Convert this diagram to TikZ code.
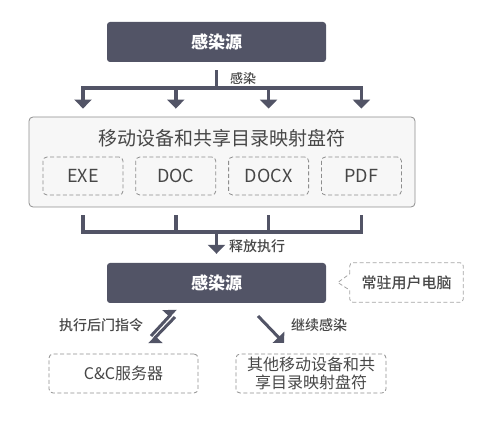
\documentclass[tikz,border=0pt]{standalone}
\usepackage{fontspec}
\setmainfont{Noto Sans CJK SC}
\newfontfamily\medfont{Noto Sans CJK SC Medium}
\usepackage{xcolor}
\usetikzlibrary{arrows.meta, positioning, calc}
\definecolor{slate}{HTML}{525466}
\definecolor{frame}{HTML}{8E8E8E}
\definecolor{ink}{HTML}{474747}

\begin{document}
\begin{tikzpicture}[x=1pt, y=-1pt,
   darkbox/.style={fill=slate, rounded corners=3pt, minimum width=219pt, minimum height=40pt,
     inner sep=0pt, text=white, font=\fontsize{17}{20}\selectfont\bfseries},
   filebox/.style={draw=frame, dash pattern=on 4pt off 2.5pt, rounded corners=4pt, line width=0.8pt,
     minimum width=80pt, minimum height=38pt, inner sep=0pt, text=ink, font=\fontsize{18}{21}\selectfont},
   flow/.style={draw=slate, line width=3.5pt},
   tip/.style={-{Triangle[width=17pt, length=9pt]}},
   lbl/.style={text=ink, inner sep=0pt, font=\fontsize{14}{16}\selectfont\medfont}]
  \useasboundingbox (0,0) rectangle (490,430);

  % source box and its spread to the shares
  \node[darkbox] (src) at (216.5,42) {感染源};
  \node[draw=frame, fill=black!3, rounded corners=4pt, line width=0.8pt,
        minimum width=386pt, minimum height=90pt, inner sep=0pt] (grp) at (222,162) {};
  \node[text=ink, inner sep=0pt, font=\fontsize{19}{22}\selectfont] (title) at (222,138) {移动设备和共享目录映射盘符};
  \node[filebox] (exe) at (83,176) {EXE};
  \node[filebox, right=12pt of exe] (doc) {DOC};
  \node[filebox, right=12pt of doc] (docx) {DOCX};
  \node[filebox, right=12pt of docx] (pdf) {PDF};

  \coordinate (split) at (216.5,88);
  \draw[flow] ([yshift=-8pt]src.south) -- (split);
  \node[lbl, font=\fontsize{13}{15}\selectfont\medfont] (infect) at (243,79) {感染};
  \draw[flow, line cap=rect] (exe |- split) -- (pdf |- split);
  \foreach \f in {exe,doc,docx,pdf}
    \draw[flow, tip] (\f |- split) -- ([yshift=8pt]\f |- grp.north);

  % files join back and run on the host
  \coordinate (merge) at (216.5,232);
  \foreach \f in {exe,doc,docx,pdf}
    \draw[flow] ([yshift=-8pt]\f |- grp.south) -- (\f |- merge);
  \draw[flow, line cap=rect] (exe |- merge) -- (pdf |- merge);
  \node[darkbox] (host) at (216.5,283) {感染源};
  \draw[flow, tip] (merge) -- ([yshift=9pt]host.north);
  \node[lbl] (run) at (257,246) {释放执行};

  % callout
  \node[text=ink, inner sep=0pt, minimum width=113pt, minimum height=39pt,
        font=\fontsize{15}{18}\selectfont\medfont] (res) at (406.5,282.5) {常驻用户电脑};
  \draw[draw=frame!80, dash pattern=on 4pt off 2.5pt, line width=0.8pt]
    ([yshift=-11pt]res.north west) [rounded corners=3pt]-- (res.north west) -- (res.north east)
    -- (res.south east) -- (res.south west) [sharp corners]-- ([yshift=12pt]res.south west)
    -- ([xshift=-12pt]res.west) -- cycle;

  % targets
  \node[filebox, minimum width=149pt, minimum height=39pt, font=\fontsize{16}{18}\selectfont] (cc) at (123.5,373.5) {C\&C服务器};
  \node[filebox, minimum width=150pt, minimum height=39pt, align=center,
        font=\fontsize{16}{18}\selectfont] (other) at (311,373.5) {其他移动设备和共\\享目录映射盘符};

  \coordinate (upA) at (151,336);
  \coordinate (upB) at (176,309);
  \coordinate (dnA) at (175,317);
  \coordinate (dnB) at (149,344);
  \draw[flow, line width=3pt, -{Triangle[harpoon, width=18pt, length=9pt]}] (upA) -- (upB);
  \draw[flow, line width=3pt, -{Triangle[harpoon, width=18pt, length=9pt]}] (dnA) -- (dnB);
  \node[lbl] (cmd) at (101,325) {执行后门指令};

  \coordinate (goA) at (258,316);
  \coordinate (goB) at (284,343);
  \draw[flow, line width=3pt, -{Triangle[width=16pt, length=8pt]}] (goA) -- (goB);
  \node[lbl] (spread) at (319,325) {继续感染};
\end{tikzpicture}
\end{document}
